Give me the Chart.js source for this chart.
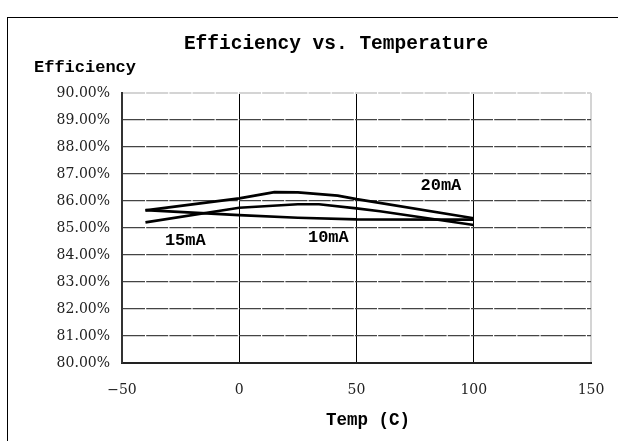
<!DOCTYPE html>
<html>
<head>
<meta charset="utf-8">
<script src="https://cdn.jsdelivr.net/npm/chart.js@4"></script>
<style>
html,body{margin:0;padding:0;background:#fff;}
#wrap{width:618px;height:441px;position:relative;}
</style>
</head>
<body>
<div id="wrap"><canvas id="c" width="618" height="441"></canvas></div>
<script>
// ---- data ----
const temps20 = [-40, 0, 15, 25, 42, 50, 100];
const eff20   = [85.65, 86.10, 86.33, 86.32, 86.20, 86.07, 85.36];

const temps10 = [-40, 0, 25, 34, 50, 60, 100];
const eff10   = [85.21, 85.75, 85.88, 85.88, 85.73, 85.62, 85.11];

const temps15 = [-40, 0, 25, 50, 100];
const eff15   = [85.66, 85.48, 85.38, 85.32, 85.31];

const xTicks = [-50, 0, 50, 100, 150];
const yTicks = [80, 81, 82, 83, 84, 85, 86, 87, 88, 89, 90];

const seriesLabels = ['20mA', '15mA', '10mA'];
const labelTemp    = [86, -23, 38];
const labelEff     = [86.56, 84.52, 84.63];

const chartTitle = 'Efficiency vs. Temperature';
const yTitle = 'Efficiency';
const xTitle = 'Temp (C)';

function pts(xs, ys){ return xs.map((x,i)=>({x:x, y:ys[i]})); }

const lineStyle = {borderColor:'#000', borderWidth:2.7, pointRadius:0, tension:0, fill:false};
const PLOT_RIGHT = 591;

const textPlugin = {
  id:'texts',
  afterLayout(chart){
    const x = chart.scales.x;
    x.right = PLOT_RIGHT; x.width = PLOT_RIGHT - x.left; x.configure();
    chart.chartArea.right = PLOT_RIGHT;
    chart.chartArea.width = PLOT_RIGHT - chart.chartArea.left;
  },
  beforeDraw(chart){
    const ctx = chart.ctx;
    ctx.save();
    ctx.fillStyle = '#fff';
    ctx.fillRect(0,0,chart.width,chart.height);
    ctx.strokeStyle = '#000';
    ctx.lineWidth = 1;
    ctx.strokeRect(7.5, 17.5, 800, 600);
    ctx.restore();
  },
  afterDraw(chart){
    const ctx = chart.ctx;
    const xs = chart.scales.x, ys = chart.scales.y;
    ctx.save();
    ctx.fillStyle = '#000';
    ctx.textBaseline = 'middle';
    ctx.font = 'bold 19.5px "Liberation Mono"';
    ctx.textAlign = 'center';
    ctx.fillText(chartTitle, 336, 44);
    ctx.textAlign = 'left';
    ctx.font = 'bold 17px "Liberation Mono"';
    ctx.fillText(yTitle, 34, 68);
    ctx.textAlign = 'center';
    ctx.font = 'bold 17.5px "Liberation Mono"';
    ctx.fillText(xTitle, 368, 421);
    ctx.font = 'bold 17px "Liberation Mono"';
    seriesLabels.forEach((t,i)=>{
      ctx.fillText(t, xs.getPixelForValue(labelTemp[i]), ys.getPixelForValue(labelEff[i]));
    });
    ctx.restore();
  }
};

new Chart(document.getElementById('c'), {
  type:'line',
  data:{
    datasets:[
      Object.assign({label:'20mA', data:pts(temps20, eff20)}, lineStyle),
      Object.assign({label:'10mA', data:pts(temps10, eff10)}, lineStyle),
      Object.assign({label:'15mA', data:pts(temps15, eff15)}, lineStyle)
    ]
  },
  options:{
    responsive:false,
    animation:false,
    devicePixelRatio:1,
    layout:{autoPadding:false, padding:{left:0, top:93, right:27, bottom:0}},
    plugins:{legend:{display:false}, title:{display:false}, tooltip:{enabled:false}},
    scales:{
      x:{
        type:'linear', min:-50, max:150,
        afterBuildTicks(s){ s.ticks = xTicks.map(v=>({value:v})); },
        afterFit(s){ s.height = 78; },
        ticks:{font:{family:'"DejaVu Serif"', size:14}, color:'#222', padding:19, maxRotation:0,
               callback:(v)=> v<0 ? '\u2212'+Math.abs(v) : String(v)},
        grid:{
          drawTicks:false,
          color(c){ const v=c.tick && c.tick.value; if(v===150) return '#d4d4d4'; if(v===-50) return 'rgba(0,0,0,0)'; return '#000'; },
          lineWidth(c){ const v=c.tick && c.tick.value; return v===150 ? 2 : 1; }
        },
        border:{display:true, color:'#222', width:2}
      },
      y:{
        min:80, max:90,
        afterBuildTicks(s){ s.ticks = yTicks.map(v=>({value:v})); },
        afterFit(s){ s.width = 122; },
        ticks:{font:{family:'"DejaVu Serif"', size:14}, color:'#222', padding:12,
               callback:(v)=>v.toFixed(2)+'%'},
        grid:{
          drawTicks:false,
          color(c){ const v=c.tick && c.tick.value; if(v===90) return '#d4d4d4'; if(v===80) return 'rgba(0,0,0,0)'; return '#444'; },
          lineWidth(c){ const v=c.tick && c.tick.value; return v===90 ? 2 : 1.3; }
        },
        border:{display:true, color:'#333', width:2, dash:[22,1.2]}
      }
    }
  },
  plugins:[textPlugin]
});
</script>
</body>
</html>
